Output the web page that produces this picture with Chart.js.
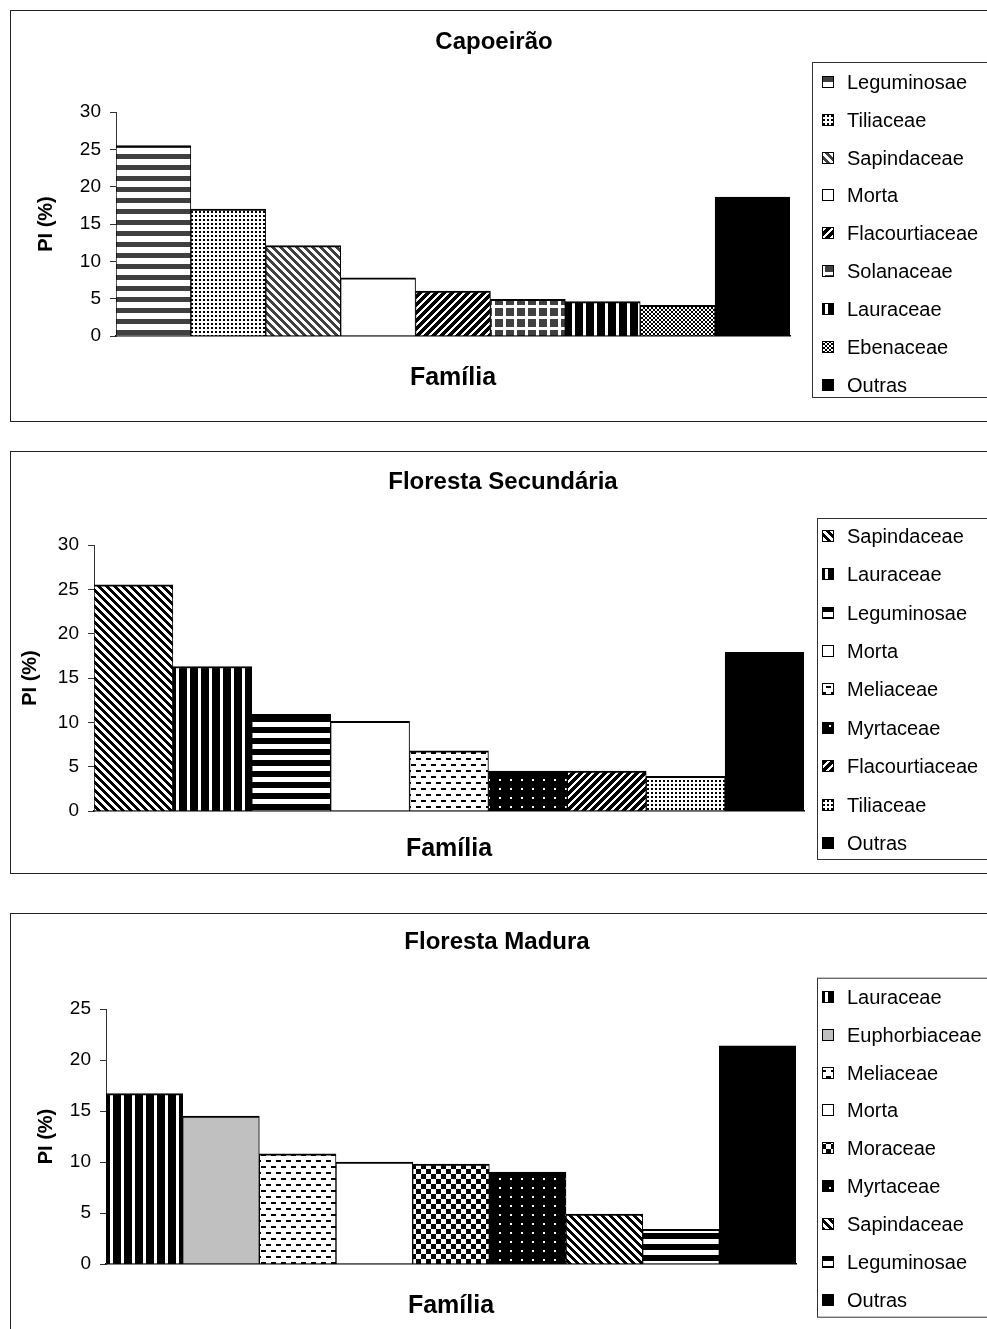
<!DOCTYPE html>
<html>
<head>
<meta charset="UTF-8">
<title>PI (%) por Família</title>
<script src="https://cdn.jsdelivr.net/npm/chart.js@4.4.1/dist/chart.umd.min.js"></script>
<style>
    body {
        margin: 0;
        width: 987px;
        height: 1329px;
        overflow: hidden;
        background: #fff;
        font-family: Arial, "Liberation Sans", sans-serif;
    }
    .panel {
        position: absolute;
        left: 10px;
        width: 1000px;
        border: 1px solid #222;
        background: #fff;
    }
    #p1 { top: 10px; height: 410px; }
    #p2 { top: 451px; height: 421px; }
    #p3 { top: 913px; height: 420px; }
</style>
</head>
<body>
<div class="panel" id="p1"><canvas id="c1"></canvas></div>
<div class="panel" id="p2"><canvas id="c2"></canvas></div>
<div class="panel" id="p3"><canvas id="c3"></canvas></div>
<script>
    // Data (PI %)
    const capLabels = ['Leguminosae', 'Tiliaceae', 'Sapindaceae', 'Morta', 'Flacourtiaceae', 'Solanaceae', 'Lauraceae', 'Ebenaceae', 'Outras'];
    const capValues = [25.5, 17.0, 12.1, 7.8, 6.0, 4.9, 4.6, 4.1, 18.6];

    const secLabels = ['Sapindaceae', 'Lauraceae', 'Leguminosae', 'Morta', 'Meliaceae', 'Myrtaceae', 'Flacourtiaceae', 'Tiliaceae', 'Outras'];
    const secValues = [25.5, 16.3, 10.9, 10.1, 6.8, 4.5, 4.5, 3.9, 17.9];

    const madLabels = ['Lauraceae', 'Euphorbiaceae', 'Meliaceae', 'Morta', 'Moraceae', 'Myrtaceae', 'Sapindaceae', 'Leguminosae', 'Outras'];
    const madValues = [16.7, 14.5, 10.8, 10.0, 9.8, 9.0, 4.9, 3.4, 21.4];

    const capMax = 30, secMax = 30, madMax = 25;
    const tickStep = 5;

    const FONT = 'Arial, "Liberation Sans", sans-serif';

    // small repeating tiles, Excel-style hatch fills
    function tile(w, h, bg, fg, on) {
        const c = document.createElement('canvas');
        c.width = w; c.height = h;
        const g = c.getContext('2d');
        g.fillStyle = bg; g.fillRect(0, 0, w, h);
        g.fillStyle = fg;
        for (let y = 0; y < h; y++)
            for (let x = 0; x < w; x++)
                if (on(x, y)) g.fillRect(x, y, 1, 1);
        return g.createPattern(c, 'repeat');
    }
    const mod = (a, n) => ((a % n) + n) % n;

    const fills = {
        legGray: tile(4, 11, '#fff', '#404040', (x, y) => y < 5),
        legBlack: tile(4, 11, '#fff', '#000', (x, y) => y < 6),
        laur: tile(11, 4, '#000', '#fff', (x, y) => x < 3),
        sapGray: tile(8, 8, '#fff', '#404040', (x, y) => mod(x - y, 8) < 4),
        sapBlack: tile(8, 8, '#fff', '#000', (x, y) => mod(x - y, 8) < 4),
        flac: tile(8, 8, '#fff', '#000', (x, y) => mod(x + y, 8) < 5),
        dots: tile(4, 4, '#fff', '#000', (x, y) => x < 2 && y < 2),
        sola: tile(11, 11, '#fff', '#404040', (x, y) => x < 8 && y < 8),
        checkFine: tile(4, 4, '#fff', '#000', (x, y) => ((x >> 1) + (y >> 1)) % 2 === 0),
        checkBig: tile(10, 10, '#fff', '#000', (x, y) => (Math.floor(x / 5) + Math.floor(y / 5)) % 2 === 0),
        dashes: tile(10, 12, '#fff', '#000', (x, y) => (y < 2 && x < 5) || (y >= 6 && y < 8 && x >= 5)),
        myrt: tile(11, 9, '#000', '#fff', (x, y) => x >= 4 && x < 6 && y >= 3 && y < 5),
        gray: '#c0c0c0',
        white: '#fff',
        black: '#000'
    };

    const capFills = [fills.legGray, fills.dots, fills.sapGray, fills.white, fills.flac, fills.sola, fills.laur, fills.checkFine, fills.black];
    const secFills = [fills.sapBlack, fills.laur, fills.legBlack, fills.white, fills.dashes, fills.myrt, fills.flac, fills.dots, fills.black];
    const madFills = [fills.laur, fills.gray, fills.dashes, fills.white, fills.checkBig, fills.myrt, fills.sapBlack, fills.legBlack, fills.black];

    // boxed legend on the right, like the spreadsheet one
    const boxLegend = {
        id: 'boxLegend',
        afterDraw(chart, args, o) {
            const ctx = chart.ctx;
            const ds = chart.data.datasets[0];
            ctx.save();
            ctx.strokeStyle = '#333';
            ctx.lineWidth = 1;
            ctx.strokeRect(o.left + 0.5, o.top + 0.5, 400, o.bottom - o.top);
            ctx.font = '20px ' + FONT;
            ctx.textBaseline = 'middle';
            chart.data.labels.forEach((lab, i) => {
                const y = Math.round(o.firstY + i * o.step);
                ctx.fillStyle = ds.backgroundColor[i];
                ctx.fillRect(o.boxX, y - 6, 12, 12);
                ctx.strokeStyle = '#000';
                ctx.strokeRect(o.boxX + 0.5, y - 5.5, 11, 11);
                ctx.fillStyle = '#000';
                ctx.fillText(lab, o.textX, y + 1);
            });
            ctx.restore();
        }
    };

    function makeChart(id, title, labels, values, colors, yMax, L) {
        return new Chart(document.getElementById(id), {
            type: 'bar',
            data: {
                labels: labels,
                datasets: [{
                    data: values,
                    backgroundColor: colors,
                    borderColor: '#000',
                    borderWidth: { top: 2, left: 1, right: 1, bottom: 0 },
                    categoryPercentage: 1,
                    barPercentage: 1
                }]
            },
            options: {
                responsive: true,
                maintainAspectRatio: false,
                animation: false,
                layout: { padding: { left: 0, top: 0, bottom: 0, right: L.padRight } },
                plugins: {
                    legend: { display: false },
                    tooltip: { enabled: false },
                    title: {
                        display: true,
                        text: title,
                        color: '#000',
                        font: { family: FONT, size: 24, weight: 'bold', lineHeight: 1.2 },
                        padding: { top: L.titleTop, bottom: L.titleBottom }
                    },
                    boxLegend: L.legend
                },
                scales: {
                    x: {
                        z: 1,
                        ticks: { display: false },
                        grid: { display: false },
                        border: { display: true, color: '#000', width: 1.5 },
                        title: {
                            display: true,
                            text: 'Família',
                            color: '#000',
                            font: { family: FONT, size: 25, weight: 'bold', lineHeight: 1.2 },
                            padding: { top: 0, bottom: L.xTitleBottom }
                        },
                        afterFit: s => { s.height = L.xHeight; }
                    },
                    y: {
                        min: 0,
                        max: yMax,
                        ticks: {
                            stepSize: tickStep,
                            color: '#000',
                            padding: 9,
                            font: { family: FONT, size: 19 }
                        },
                        grid: { drawOnChartArea: false, drawTicks: true, tickLength: 6, color: '#333' },
                        border: { color: '#333', width: 1 },
                        title: {
                            display: true,
                            text: 'PI (%)',
                            color: '#000',
                            font: { family: FONT, size: 20, weight: 'bold', lineHeight: 1.2 },
                            padding: { top: L.yTitleTop, bottom: 0 }
                        },
                        afterFit: s => { s.width = L.yWidth; }
                    },
                    // empty right-hand strip that the legend box sits in
                    side: {
                        type: 'linear',
                        position: 'right',
                        ticks: { display: false },
                        grid: { display: false },
                        border: { display: false },
                        afterFit: s => { s.width = L.sideWidth; }
                    }
                }
            },
            plugins: [boxLegend]
        });
    }

    makeChart('c1', 'Capoeirão', capLabels, capValues, capFills, capMax, {
        padRight: 34, sideWidth: 187, yWidth: 105, xHeight: 85,
        titleTop: 16.6, titleBottom: 55.6, xTitleBottom: 28, yTitleTop: 23,
        legend: { left: 801, top: 51, bottom: 386, boxX: 811, textX: 836, firstY: 70.7, step: 37.9 }
    });

    makeChart('c2', 'Floresta Secundária', secLabels, secValues, secFills, secMax, {
        padRight: 16, sideWidth: 191, yWidth: 83, xHeight: 62,
        titleTop: 15.6, titleBottom: 48.6, xTitleBottom: 9, yTitleTop: 7,
        legend: { left: 806, top: 66, bottom: 407, boxX: 811, textX: 836, firstY: 83.7, step: 38.4 }
    });

    makeChart('c3', 'Floresta Madura', madLabels, madValues, madFills, madMax, {
        padRight: 28, sideWidth: 187, yWidth: 95, xHeight: 70,
        titleTop: 13.6, titleBottom: 52.6, xTitleBottom: 13, yTitleTop: 23,
        legend: { left: 806, top: 63.7, bottom: 402.7, boxX: 811, textX: 836, firstY: 82.7, step: 37.9 }
    });
</script>
</body>
</html>
